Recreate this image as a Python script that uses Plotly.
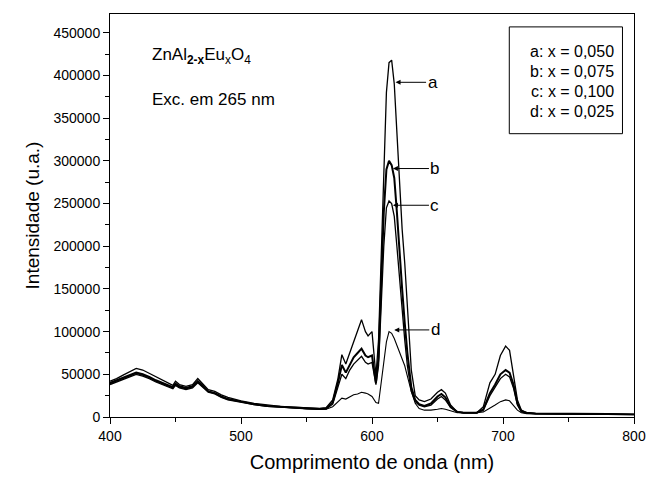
import plotly.graph_objects as go

wavelength = [400, 405, 410, 415, 420, 425, 430, 435, 440, 445,
              448, 450, 453, 458, 463, 467, 470, 475, 480, 485,
              490, 500, 510, 520, 530, 540, 550, 560, 565, 570,
              574, 577, 580, 583, 586, 589, 592, 595, 597, 600,
              603, 605, 607, 609, 611, 613, 615, 617, 619, 621,
              623, 625, 627, 630, 633, 636, 640, 645, 650, 653,
              656, 660, 665, 670, 680, 685, 690, 694, 698, 702,
              705, 708, 711, 714, 718, 725, 740, 760, 780, 800]

# intensities in thousands (u.a.)
curve_a = [42, 45, 49, 53, 57, 55, 51, 47, 43, 39,
           37, 42, 38, 36, 38, 45, 40, 32, 30, 26,
           23, 19, 16, 14, 12.5, 11.5, 10.5, 10, 11, 20,
           45, 73, 62, 75, 88, 100, 114, 100, 95, 100,
           48, 90, 180, 290, 380, 415, 418, 390, 330, 270,
           220, 180, 130, 55, 25, 20, 18, 21, 29, 32,
           28, 14, 6, 5, 5, 12, 40, 50, 72, 83,
           78, 50, 20, 8, 5, 4, 4, 3.5, 3.5, 3]
curve_b = [40, 43, 46, 49, 52, 50, 47, 43, 40, 37,
           35, 39, 36, 34, 36, 42, 38, 30, 28, 24,
           21, 18, 15, 13, 12, 11, 10, 9.5, 10, 17,
           40, 61, 52, 62, 70, 75, 80, 72, 70, 72,
           40, 70, 150, 240, 290, 300, 295, 280, 240, 190,
           150, 110, 75, 35, 20, 15, 13, 16, 24, 27,
           23, 12, 6, 5, 5, 9, 28, 38, 50, 55,
           52, 38, 16, 7, 5, 4, 4, 3.5, 3.5, 3]
curve_c = [38, 41, 44, 47, 50, 48, 45, 41, 38, 35,
           33, 37, 34, 32, 34, 40, 36, 29, 27, 23,
           20, 17, 14.5, 12.5, 11.5, 10.5, 9.5, 9, 9.5, 15,
           35, 50, 45, 55, 62, 66, 71, 64, 62, 64,
           38, 60, 130, 200, 245, 253, 250, 235, 200, 160,
           125, 90, 60, 30, 18, 14, 12, 14, 21, 24,
           20, 11, 6, 5, 5, 8, 25, 35, 45, 50,
           47, 34, 14, 6, 4.5, 4, 3.5, 3.5, 3, 3]
curve_d = [39, 42, 45, 48, 51, 49, 46, 42, 39, 36,
           34, 38, 35, 33, 35, 41, 37, 30, 28, 24,
           21, 18, 15, 13, 11.5, 10.5, 9.5, 9, 9, 12,
           18, 22, 21, 24, 26, 27, 29, 28, 27, 24,
           17, 16, 40, 67, 88, 100, 98, 92, 84, 77,
           70, 60, 48, 30, 16, 10, 8, 8, 9, 10,
           9, 7, 5, 5, 5, 6, 10, 14, 18, 20,
           19, 14, 8, 5, 4, 3.5, 3.5, 3, 3, 3]

series_names = ["a", "b", "c", "d"]
series_values = [curve_a, curve_b, curve_c, curve_d]
series_widths = [1.3, 2.0, 1.3, 1.1]
legend_lines = ["a: x = 0,050", "b: x = 0,075", "c: x = 0,100", "d: x = 0,025"]

x_ticks = [400, 500, 600, 700, 800]
y_ticks = [0, 50000, 100000, 150000, 200000, 250000, 300000, 350000, 400000, 450000]

FONT = "Liberation Sans, Arial, sans-serif"

fig = go.Figure()
for name, vals, w in zip(series_names, series_values, series_widths):
    fig.add_trace(go.Scatter(
        x=wavelength, y=[v * 1000 for v in vals], mode="lines", name=name,
        line=dict(color="black", width=w), showlegend=False))

# arrow labels
arrow_specs = [("a", 618, 392000, 37), ("b", 616, 291000, 42),
               ("c", 616, 248000, 42), ("d", 617, 102000, 41)]
for label, xh, yh, ax in arrow_specs:
    fig.add_annotation(x=xh, y=yh, xref="x", yref="y", text=label,
                       showarrow=True, ax=ax, ay=0, arrowhead=2, arrowsize=1,
                       arrowwidth=1, arrowcolor="black",
                       font=dict(family=FONT, size=17, color="black"))

# legend box
fig.add_shape(type="rect", xref="paper", yref="paper",
              x0=0.762, x1=0.978, y0=0.703, y1=0.968,
              line=dict(color="black", width=1), fillcolor="white")
legend_y = [0.9066, 0.8575, 0.8084, 0.7592]
for txt, yy in zip(legend_lines, legend_y):
    fig.add_annotation(x=0.966, y=yy, xref="paper", yref="paper", text=txt,
                       showarrow=False, xanchor="right", yanchor="middle",
                       font=dict(family=FONT, size=16, color="black"))

fig.add_annotation(x=0.076, y=0.895, xref="paper", yref="paper",
                   text="ZnAl<sub><b>2-x</b></sub>Eu<sub>x</sub>O<sub>4</sub>",
                   showarrow=False, xanchor="left", yanchor="middle",
                   font=dict(family=FONT, size=17, color="black"))
fig.add_annotation(x=0.076, y=0.788, xref="paper", yref="paper",
                   text="Exc. em 265 nm",
                   showarrow=False, xanchor="left", yanchor="middle",
                   font=dict(family=FONT, size=17, color="black"))

fig.update_xaxes(range=[400, 800], tickvals=x_ticks, ticks="outside", ticklen=6,
                 tickwidth=1, tickcolor="black", showline=True, linecolor="black",
                 linewidth=1, mirror=True, showgrid=False, zeroline=False,
                 minor=dict(dtick=50, ticks="outside", ticklen=4, tickcolor="black"),
                 tickfont=dict(family=FONT, size=14, color="black"),
                 title=dict(text="Comprimento de onda (nm)", standoff=12,
                            font=dict(family=FONT, size=20, color="black")))
fig.update_yaxes(range=[0, 472000], tickvals=y_ticks, tickformat="d", ticks="outside",
                 ticklen=6, tickwidth=1, tickcolor="black", showline=True,
                 linecolor="black", linewidth=1, mirror=True, showgrid=False,
                 zeroline=False,
                 minor=dict(dtick=25000, ticks="outside", ticklen=4, tickcolor="black"),
                 tickfont=dict(family=FONT, size=14, color="black"),
                 title=dict(text="Intensidade (u.a.)", standoff=8,
                            font=dict(family=FONT, size=19, color="black")))

fig.update_layout(width=658, height=482, margin=dict(l=110, r=13, t=14, b=61),
                  paper_bgcolor="white", plot_bgcolor="white",
                  font=dict(family=FONT, color="black"))

fig.write_html("out.html")
